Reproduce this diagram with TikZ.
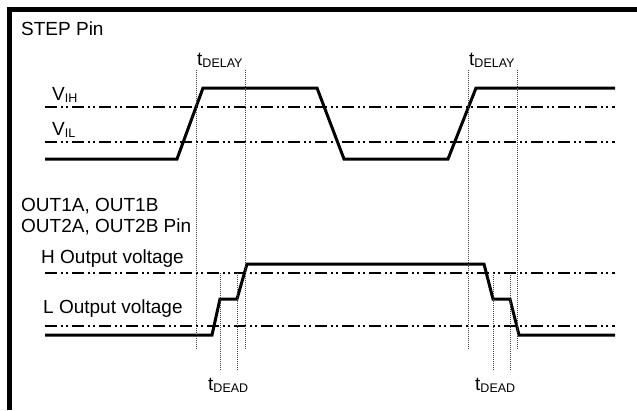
\documentclass[tikz,border=0pt]{standalone}
\usepackage{fontspec}
\setmainfont{Liberation Sans}
\usepackage{tikz}
\usetikzlibrary{calc}

\newcommand{\lowsub}[1]{\raisebox{-2.5pt}{\fontsize{12.5}{12.5}\selectfont #1}}

\begin{document}
\begin{tikzpicture}[x=1pt,y=-1pt]
\tikzstyle{wave}=[line width=3pt]
\tikzstyle{level}=[line width=1.1pt,dash pattern=on 12pt off 4pt on 1.5pt off 3.5pt on 1.5pt off 4.5pt]
\tikzstyle{marker}=[line width=0.8pt,black!75,dash pattern=on 1pt off 1pt]
\tikzstyle{lbl}=[anchor=base west,inner sep=0pt,font=\fontsize{19}{22}\selectfont]

\useasboundingbox (0,0) rectangle (637,410);

% FRAME
\draw [line width=4.5pt] (9.5,410) -- (9.5,9.5) -- (637,9.5);

% STEP PIN LABELS
\node (steplbl) [lbl] at (21,35) {STEP Pin};
\node (vih) [lbl] at (52,100) {V\lowsub{IH}};
\node (vil) [lbl] at (52,135) {V\lowsub{IL}};
\node (delayA) [lbl] at (197,65) {t\lowsub{DELAY}};
\node (delayB) [lbl] at (469,65) {t\lowsub{DELAY}};

% THRESHOLD LEVELS
\draw [level] (45,107) -- (615,107);
\draw [level] (45,142) -- (615,142);

% STEP WAVEFORM
\draw [wave] (45,159) -- (177,159) -- (203,88) -- (317,88) -- (344,159)
  -- (448,159) -- (476,88) -- (615,88);

% OUTPUT LABELS
\node (outA) [lbl] at (21,211) {OUT1A, OUT1B};
\node (outB) [lbl] at (21,232) {OUT2A, OUT2B Pin};
\node (hout) [lbl] at (41,263) {H Output voltage};
\node (lout) [lbl] at (43,313) {L Output voltage};
\node (deadA) [lbl] at (208,390) {t\lowsub{DEAD}};
\node (deadB) [lbl] at (475,390) {t\lowsub{DEAD}};

% OUTPUT LEVELS
\draw [level] (45,273) -- (615,273);
\draw [level] (45,326) -- (615,326);

% OUTPUT WAVEFORM
\draw [wave] (45,335) -- (212,335) -- (220,299) -- (237,299) -- (247,264)
  -- (484,264) -- (493,299) -- (510,299) -- (519,335) -- (615,335);

% DELAY MARKERS
\foreach \x in {196,245,468,517}
  \draw [marker] (\x,70) -- (\x,350);
% DEAD TIME MARKERS
\foreach \x in {220,237,493,510}
  \draw [marker] (\x,273) -- (\x,370);

\end{tikzpicture}
\end{document}
